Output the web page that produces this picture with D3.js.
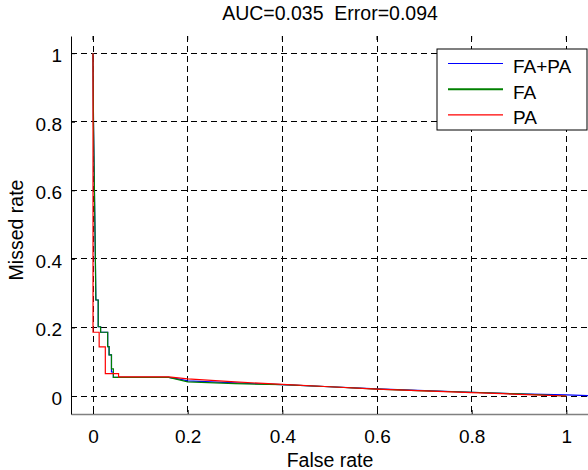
<!DOCTYPE html>
<html>
<head>
<meta charset="utf-8">
<script src="https://d3js.org/d3.v7.min.js"></script>
<style>
body { margin: 0; background: #fff; }
svg text { font-family: "Liberation Sans", Arial, sans-serif; white-space: pre; }
</style>
</head>
<body>
<div id="chart"></div>
<script>
// tick values
const xTicks = [0, 0.2, 0.4, 0.6, 0.8, 1];
const yTicks = [0, 0.2, 0.4, 0.6, 0.8, 1];

// FA+PA curve (blue)
const fapaX = [0, 0.001, 0.003, 0.005, 0.006, 0.011, 0.011, 0.016, 0.016, 0.031, 0.031, 0.034, 0.034, 0.039, 0.039, 0.043, 0.043, 0.16, 0.18, 0.2, 0.3, 0.4, 0.5, 0.6, 0.7, 0.8, 0.9, 1.0, 1.05];
const fapaY = [1, 0.8, 0.6, 0.4, 0.28, 0.28, 0.202, 0.202, 0.186, 0.186, 0.144, 0.144, 0.12, 0.12, 0.07, 0.07, 0.0545, 0.0545, 0.05, 0.044, 0.038, 0.033, 0.027, 0.021, 0.016, 0.011, 0.006, 0.003, 0.001];
// FA curve (green)
const faX = [0, 0.001, 0.003, 0.005, 0.006, 0.011, 0.011, 0.016, 0.016, 0.031, 0.031, 0.034, 0.034, 0.039, 0.039, 0.043, 0.043, 0.16, 0.18, 0.2, 0.3, 0.4, 0.5, 0.6, 0.7, 0.8, 0.9, 1.0];
const faY = [1, 0.8, 0.6, 0.4, 0.28, 0.28, 0.202, 0.202, 0.186, 0.186, 0.144, 0.144, 0.12, 0.12, 0.079, 0.079, 0.0545, 0.0545, 0.048, 0.041, 0.036, 0.033, 0.027, 0.020, 0.015, 0.011, 0.006, 0.0];
// PA curve (red)
const paX = [0, 0, 0.013, 0.013, 0.026, 0.026, 0.054, 0.054, 0.16, 0.2, 0.3, 0.4, 0.5, 0.6, 0.7, 0.8, 0.9, 1.0];
const paY = [1, 0.186, 0.186, 0.143, 0.143, 0.065, 0.065, 0.056, 0.056, 0.05, 0.041, 0.034, 0.027, 0.020, 0.015, 0.010, 0.005, 0.0];

const names = ["FA+PA", "FA", "PA"];
const colors = ["#0000ff", "#008000", "#ff0000"];
const series = [
  {name: names[0], xs: fapaX, ys: fapaY},
  {name: names[1], xs: faX, ys: faY},
  {name: names[2], xs: paX, ys: paY}
];

const W = 588, H = 470;
const fs = 19;
const svg = d3.select("#chart").append("svg")
  .attr("width", W).attr("height", H);

const x = d3.scaleLinear().domain([-0.0465, 1.05]).range([71, 590]);
const y = d3.scaleLinear().domain([-0.0525, 1.05]).range([414, 36]);

// grid
const grid = svg.append("g");
grid.selectAll(".gx").data(xTicks).join("line")
  .attr("x1", d => x(d)).attr("x2", d => x(d))
  .attr("y1", y.range()[1]).attr("y2", y.range()[0])
  .attr("stroke", "#000").attr("stroke-dasharray", "6,4")
  .attr("shape-rendering", "crispEdges");
grid.selectAll(".gy").data(yTicks).join("line")
  .attr("y1", d => y(d)).attr("y2", d => y(d))
  .attr("x1", x.range()[0]).attr("x2", x.range()[1])
  .attr("stroke", "#000").attr("stroke-dasharray", "6,4")
  .attr("shape-rendering", "crispEdges");

// curves
const line = d3.line().x(d => x(d[0])).y(d => y(d[1]));
series.forEach((s, i) => {
  svg.append("path")
    .datum(s.xs.map((v, j) => [v, s.ys[j]]))
    .attr("d", line)
    .attr("fill", "none")
    .attr("stroke", colors[i])
    .attr("stroke-width", 1.2);
});

// axes
const xAxis = svg.append("g")
  .attr("transform", `translate(0,${y.range()[0]})`)
  .call(d3.axisBottom(x).tickValues(xTicks).tickSizeInner(-4).tickSizeOuter(0).tickPadding(16).tickFormat(d3.format("~g")));
xAxis.select(".domain").attr("stroke", "#808080").attr("stroke-width", 1.5);
const yAxis = svg.append("g")
  .attr("transform", `translate(${x.range()[0]},0)`)
  .call(d3.axisLeft(y).tickValues(yTicks).tickSizeInner(-4).tickSizeOuter(0).tickPadding(9).tickFormat(d3.format("~g")));
yAxis.select(".domain").attr("stroke", "#000");
[xAxis, yAxis].forEach(a => a.selectAll("text").attr("font-size", fs).attr("fill", "#000")
  .style("font-family", "'Liberation Sans', Arial, sans-serif"));
yAxis.selectAll("text").attr("dy", "0.45em");

// top ticks
svg.append("g").selectAll("line").data(xTicks).join("line")
  .attr("x1", d => x(d)).attr("x2", d => x(d))
  .attr("y1", y.range()[1]).attr("y2", y.range()[1] + 4)
  .attr("stroke", "#000");

// labels
svg.append("text").attr("x", 330).attr("y", 20).attr("text-anchor", "middle")
  .attr("font-size", 19.5).text("AUC=0.035  Error=0.094");
svg.append("text").attr("x", 330).attr("y", 466.5).attr("text-anchor", "middle")
  .attr("font-size", 19.5).text("False rate");
svg.append("text").attr("transform", "translate(23,230) rotate(-90)").attr("text-anchor", "middle")
  .attr("font-size", 19.5).text("Missed rate");

// legend
const lg = svg.append("g").attr("transform", "translate(437,49)");
lg.append("rect").attr("width", 150).attr("height", 81)
  .attr("fill", "#fff").attr("stroke", "#000");
names.forEach((n, i) => {
  const yy = 14.5 + i * 25.7;
  lg.append("line").attr("x1", 11).attr("x2", 66).attr("y1", yy).attr("y2", yy)
    .attr("stroke", colors[i]).attr("stroke-width", i === 1 ? 2 : 1.2);
  lg.append("text").attr("x", 76).attr("y", yy + 9.5).attr("font-size", fs).text(n);
});
</script>
</body>
</html>
